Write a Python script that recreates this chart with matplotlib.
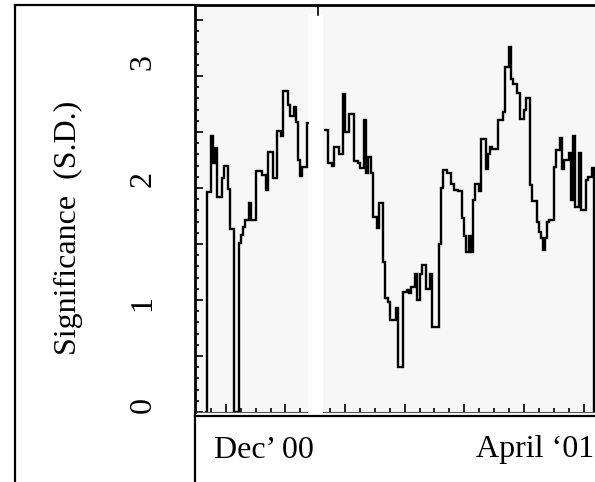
import numpy as np
import matplotlib.pyplot as plt
from matplotlib.lines import Line2D

plt.rcParams['font.family'] = ['Liberation Serif', 'DejaVu Serif']

# daily significance (S.D.), first block: days 4..52
sig_dec = [0.0, 1.96, 1.96, 2.46, 2.22, 2.36,
           1.92, 1.92, 2.09, 2.20, 2.20, 1.99, 1.63, 1.63, 0.0, 0.0,
           1.51, 1.58, 1.65, 1.71, 1.71, 1.87, 1.71, 1.71, 2.15, 2.15,
           2.15, 2.12, 2.12, 1.98, 2.32, 2.32, 2.09, 2.09, 2.51, 2.51,
           2.46, 2.87, 2.87, 2.74, 2.64, 2.64, 2.72, 2.59, 2.25, 2.11,
           2.19, 2.19, 2.58]
# second block: days 60..187
sig_jan = [2.52, 2.52, 2.22, 2.22, 2.20, 2.37, 2.37, 2.30, 2.30, 2.84,
           2.50, 2.50, 2.66, 2.66, 2.24, 2.24, 2.22, 2.18, 2.18, 2.61,
           2.13, 2.28, 2.13, 1.74, 1.74, 1.64, 1.87, 1.87, 1.34, 1.02,
           0.98, 0.82, 0.82, 0.82, 0.93, 0.40, 0.40, 1.07, 1.07, 1.09,
           1.06, 1.12, 1.12, 1.23, 1.00, 1.23, 1.31, 1.31, 1.10, 1.10,
           1.23, 0.76, 0.76, 0.76, 1.50, 2.00, 2.16, 2.16, 2.13, 2.13,
           2.04, 1.98, 1.98, 1.97, 1.97, 1.73, 1.57, 1.43, 1.57, 1.43,
           1.89, 2.04, 2.04, 1.97, 2.44, 2.44, 2.17, 2.30, 2.37, 2.35,
           2.35, 2.35, 2.61, 2.61, 2.68, 3.08, 3.08, 3.26, 2.97, 2.93,
           2.93, 2.85, 2.62, 2.62, 2.70, 2.80, 2.80, 2.03, 1.88, 1.88,
           1.70, 1.61, 1.55, 1.45, 1.55, 1.70, 1.71, 1.71, 2.19, 2.34,
           2.34, 2.45, 2.17, 2.25, 2.25, 2.31, 1.89, 2.46, 1.83, 1.83,
           2.31, 1.80, 1.80, 2.07, 2.10, 2.10, 2.18, 0.0]
dec_start = 4
jan_start = 60

y_labels = ['0', '1', '2', '3']
x_labels = ['Dec\u2019 00', 'April \u201801']

W, H = 595, 482


def fx(px):
    return px / W


def fy(py):
    return 1 - py / H


n_days = jan_start + len(sig_jan)
sig = np.full(n_days, np.nan)
sig[dec_start:dec_start + len(sig_dec)] = sig_dec
sig[jan_start:] = sig_jan
edges = np.arange(n_days + 1)

fig = plt.figure(figsize=(W / 100, H / 100), dpi=100)
ax = fig.add_axes([fx(195), fy(412), fx(595) - fx(195), fy(5) - fy(412)])
ax.set_facecolor('#f7f7f7')

ax.stairs(sig, edges, baseline=None, color='black', lw=1.7, zorder=4)

ax.set_xlim(-0.47, 187.4)
ax.set_ylim(0, 3.634)

# weekly ticks, longer every four weeks
ax.set_xticks(np.arange(14, 188, 28))
ax.set_xticks(np.arange(0, 188, 7), minor=True)
ax.set_yticks(np.arange(0, 3.6, 0.5))
ax.set_yticks(np.arange(0, 3.6, 0.1), minor=True)
ax.set_xticklabels([])
ax.set_yticklabels([])
ax.tick_params(which='major', direction='in', length=6, width=1.2, color='black')
ax.tick_params(which='minor', direction='in', length=3, width=1.2, color='black')

ax.spines['right'].set_visible(False)
ax.spines['top'].set_linewidth(2)
ax.spines['left'].set_linewidth(2)
ax.spines['bottom'].set_linewidth(0.8)
ax.spines['bottom'].set_color('#555555')

# no data between the two blocks
ax.axvspan(52.6, 59.7, ymin=-0.009, ymax=0.978, color='white', lw=0,
           zorder=3, clip_on=False)
ax.axvline(57.3, ymin=0.976, ymax=1, color='black', lw=1.2, zorder=5)

# frame around the label column and the date row
for (x0, y0), (x1, y1) in [((195, 415.5), (595, 415.5)),
                           ((195, 412), (195, 482)),
                           ((15, 5), (15, 482)),
                           ((15, 5), (195, 5))]:
    fig.add_artist(Line2D([fx(x0), fx(x1)], [fy(y0), fy(y1)],
                          color='black', lw=1.6, transform=fig.transFigure))

fig.text(fx(68), fy(228), 'Significance  (S.D.)', rotation=90,
         ha='center', va='center', fontsize=23)
for lab, py in zip(y_labels, [405, 303, 179, 62]):
    fig.text(fx(143), fy(py), lab, rotation=90, ha='center', va='center',
             fontsize=23)

fig.text(fx(264), fy(450), x_labels[0], ha='center', va='center', fontsize=23)
fig.text(fx(476), fy(450), x_labels[1], ha='left', va='center', fontsize=23)

fig.savefig('out.png', dpi=100)
